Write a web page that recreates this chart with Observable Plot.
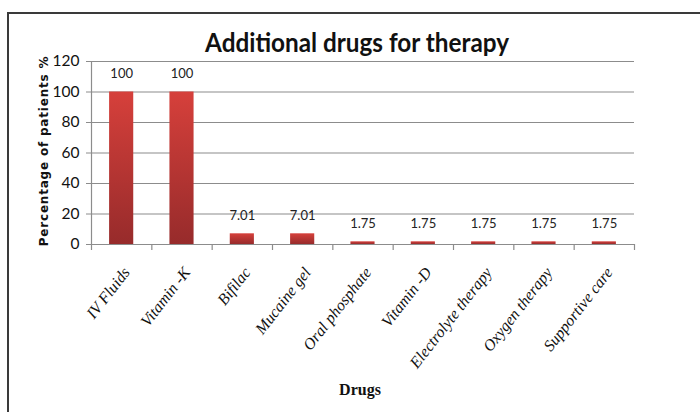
<!DOCTYPE html>
<html>
<head>
<meta charset="utf-8">
<script src="https://cdn.jsdelivr.net/npm/d3@7"></script>
<script src="https://cdn.jsdelivr.net/npm/@observablehq/plot@0.6"></script>
<style>
  html, body { margin: 0; padding: 0; background: #fff; }
  #wrap { position: relative; width: 700px; height: 412px; overflow: hidden; }
  #frame { position: absolute; left: 7px; top: 12px; width: 720px; height: 420px; border-left: 2px solid #3a3a3a; border-top: 2px solid #3a3a3a; box-sizing: border-box; }
  #title { position: absolute; left: 357px; top: 25px; transform: translateX(-50%) scaleX(0.9); font-family: Lato, sans-serif; font-weight: bold; font-size: 27px; color: #111; white-space: nowrap; }
  #ylab { position: absolute; left: 44px; top: 151px; transform: translate(-50%, -50%) rotate(-90deg); font-family: "DejaVu Sans", sans-serif; font-weight: bold; font-size: 12px; letter-spacing: 0.8px; color: #111; white-space: nowrap; }
  #xlab { position: absolute; left: 360px; top: 381px; transform: translateX(-50%); font-family: "Liberation Serif", serif; font-weight: bold; font-size: 16px; color: #111; }
  #chart { position: absolute; left: 0; top: 0; }
</style>
</head>
<body>
<div id="wrap">
  <div id="frame"></div>
  <div id="chart"></div>
  <div id="title">Additional drugs for therapy</div>
  <div id="ylab">Percentage of patients %</div>
  <div id="xlab">Drugs</div>
</div>
<script>
const drugs = ["IV Fluids", "Vitamin -K", "Bifilac", "Mucaine gel", "Oral phosphate", "Vitamin -D", "Electrolyte therapy", "Oxygen therapy", "Supportive care"];
const values = [100, 100, 7.01, 7.01, 1.75, 1.75, 1.75, 1.75, 1.75];
const valueLabels = ["100", "100", "7.01", "7.01", "1.75", "1.75", "1.75", "1.75", "1.75"];
const yTicks = [0, 20, 40, 60, 80, 100, 120];

const data = drugs.map((d, i) => ({drug: d, i, value: values[i], label: valueLabels[i]}));
const boundaries = d3.range(drugs.length + 1);

const chart = Plot.plot({
  width: 700,
  height: 412,
  marginLeft: 91,
  marginRight: 66,
  marginTop: 61,
  marginBottom: 168,
  style: {background: "transparent", overflow: "visible"},
  x: {domain: [0, drugs.length], axis: null},
  y: {domain: [0, 120], axis: null},
  marks: [
    Plot.ruleY(yTicks.filter(v => v > 0), {stroke: "#8c8c8c", strokeWidth: 1.2}),
    Plot.rect(data, {x1: d => d.i + 0.3, x2: d => d.i + 0.7, y1: 0, y2: "value", fill: "url(#barGrad)"}),
    Plot.ruleX([0], {y1: 0, y2: 120, stroke: "#8c8c8c", strokeWidth: 1.2}),
    Plot.ruleY([0], {stroke: "#8c8c8c", strokeWidth: 1.2}),
    Plot.axisX({ticks: boundaries, tickFormat: () => "", label: null, tickSize: 6, stroke: "#8c8c8c", strokeWidth: 1.2}),
    Plot.axisY({ticks: yTicks, label: null, tickSize: 5, tickPadding: 7, stroke: "#8c8c8c", fontSize: 15.5, fill: "#111", fontFamily: "Lato, sans-serif"}),
    Plot.text(data, {x: d => d.i + 0.5, y: "value", text: "label", dy: -18, fontSize: 13, fill: "#222", fontFamily: "Lato, sans-serif"}),
    Plot.text(data, {x: d => d.i + 0.5, y: 0, text: "drug", rotate: -52, textAnchor: "end", dx: 5, dy: 25, fontSize: 16, fontStyle: "italic", fill: "#111", fontFamily: "Liberation Serif, serif"})
  ]
});

const ns = "http://www.w3.org/2000/svg";
const defs = document.createElementNS(ns, "defs");
const grad = document.createElementNS(ns, "linearGradient");
grad.setAttribute("id", "barGrad");
grad.setAttribute("x1", "0"); grad.setAttribute("y1", "0");
grad.setAttribute("x2", "0"); grad.setAttribute("y2", "1");
[["0%", "#d6403b"], ["100%", "#972b2b"]].forEach(([o, c]) => {
  const s = document.createElementNS(ns, "stop");
  s.setAttribute("offset", o); s.setAttribute("stop-color", c);
  grad.appendChild(s);
});
defs.appendChild(grad);
chart.insertBefore(defs, chart.firstChild);
document.getElementById("chart").appendChild(chart);
</script>
</body>
</html>
